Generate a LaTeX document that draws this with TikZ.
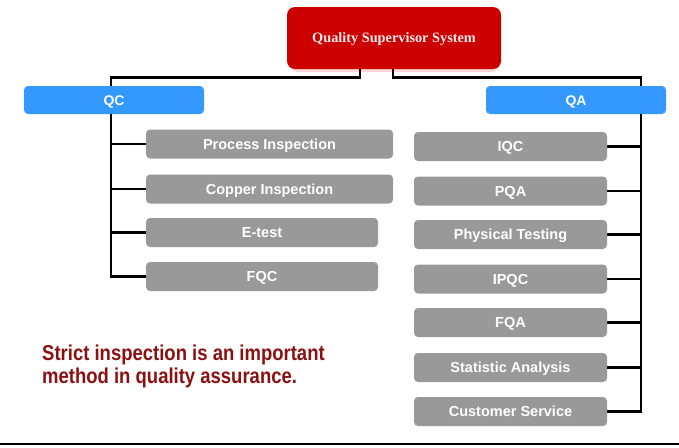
\documentclass[tikz,border=0pt]{standalone}
\usepackage{fontspec}
\setmainfont{Liberation Sans}
\newfontfamily\titlefont{Liberation Serif}
\newfontfamily\notefont[FakeStretch=0.86]{Liberation Sans}
\definecolor{titlered}{RGB}{204,0,0}
\definecolor{titleglow}{RGB}{252,215,215}
\definecolor{headblue}{RGB}{51,153,255}
\definecolor{boxgray}{RGB}{153,153,153}
\definecolor{notered}{RGB}{140,16,16}
\definecolor{titletext}{RGB}{255,235,235}
\tikzset{
  titlebox/.style={fill=titlered, rounded corners=8pt, inner sep=0pt,
    minimum width=214pt, minimum height=62pt, text=titletext,
    text height=9.5pt, text depth=0pt,
    font=\titlefont\bfseries\fontsize{14.3}{17}\selectfont},
  headbox/.style={fill=headblue, rounded corners=4pt, inner sep=0pt,
    minimum width=180pt, minimum height=28pt, text=white,
    text height=10pt, text depth=0pt,
    font=\bfseries\fontsize{14}{17}\selectfont},
  graybox/.style={fill=boxgray, rounded corners=4pt, inner sep=0pt,
    minimum height=29pt, text=white,
    text height=10.4pt, text depth=0pt,
    font=\bfseries\fontsize{14.5}{17}\selectfont},
  leftwide/.style={graybox, minimum width=247pt},
  leftnarrow/.style={graybox, minimum width=232pt},
  rightbox/.style={graybox, minimum width=193pt},
  conn/.style={draw=black, line width=2.2pt},
}
\begin{document}
\begin{tikzpicture}[x=1pt,y=-1pt]
\useasboundingbox (0,0) rectangle (679,447);
% glow under the title box
\fill[titleglow, rounded corners=8pt] (290,12) rectangle (499,72);
\node[titlebox] (title) at (394,38) {Quality Supervisor System};
\node[headbox] (qc) at (114,100) {QC};
\node[headbox] (qa) at (576,100) {QA};
% left column
\node[leftwide] (pi) at (269.5,144) {Process Inspection};
\node[leftwide] (ci) at (269.5,189) {Copper Inspection};
\node[leftnarrow] (et) at (262,232.5) {E-test};
\node[leftnarrow] (fqc) at (262,276.5) {FQC};
% right column
\node[rightbox] (iqc) at (510.5,146.5) {IQC};
\node[rightbox] (pqa) at (510.5,191) {PQA};
\node[rightbox] (pt) at (510.5,234.5) {Physical Testing};
\node[rightbox] (ipqc) at (510.5,279) {IPQC};
\node[rightbox] (fqa) at (510.5,322.5) {FQA};
\node[rightbox] (sa) at (510.5,367.5) {Statistic Analysis};
\node[rightbox] (cs) at (510.5,411.5) {Customer Service};
% note
\node[anchor=north west, align=left, inner sep=0pt, text=notered,
  font=\notefont\bfseries\fontsize{21.5}{23}\selectfont] (note) at (42,345)
  {Strict inspection is an important\\method in quality assurance.};
% trunk and bend coordinates
\coordinate (tl) at (360,0);
\coordinate (tr) at (393,0);
\coordinate (bl) at (111,0);
\coordinate (br) at (641,0);
\coordinate (ylev) at (0,77.5);
\coordinate (lineL) at (0,444);
\coordinate (lineR) at (679,444);
% title to heads
\draw[conn] (title.south -| tl) -- (ylev -| tl) -- (ylev -| bl) -- (qc.north -| bl);
\draw[conn] (title.south -| tr) -- (ylev -| tr) -- (ylev -| br) -- (qa.north -| br);
% QC branch
\draw[conn] (qc.south -| bl) |- (fqc.west);
\foreach \n in {pi,ci,et} \draw[conn] (\n.west) -- (\n.west -| bl);
% QA branch
\draw[conn] (qa.south -| br) |- (cs.east);
\foreach \n in {iqc,pqa,pt,ipqc,fqa,sa} \draw[conn] (\n.east) -- (\n.east -| br);
% bottom rule
\draw[black, line width=1.6pt] (lineL) -- (lineR);
\end{tikzpicture}
\end{document}
